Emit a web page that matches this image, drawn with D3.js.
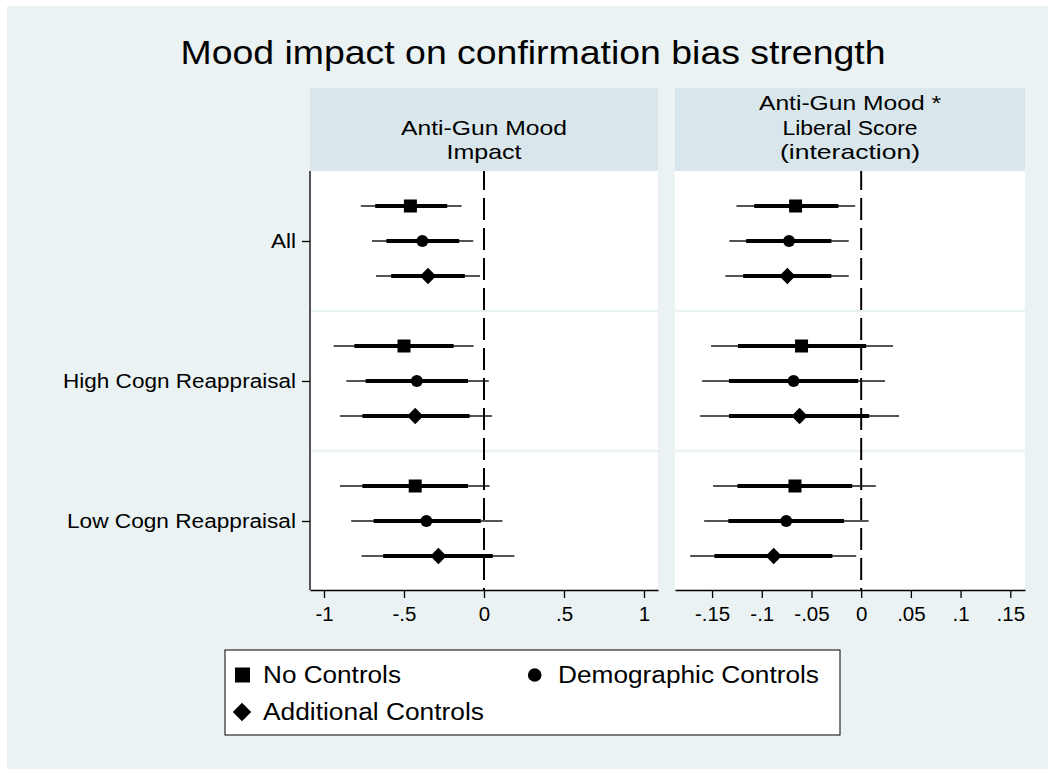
<!DOCTYPE html>
<html lang="en">
<head>
<meta charset="UTF-8">
<title>Mood impact on confirmation bias strength</title>
<script src="https://d3js.org/d3.v7.min.js"></script>
<style>
  body { margin: 0; background: #ffffff; }
  text { font-family: "Liberation Sans", Arial, sans-serif; fill: #000; }
</style>
</head>
<body>
<div id="chart"></div>
<script>
// groups (rows) and the three model specifications
const groups = ["All", "High Cogn Reappraisal", "Low Cogn Reappraisal"];
const series = ["No Controls", "Demographic Controls", "Additional Controls"];

const leftTicks = [-1, -0.5, 0, 0.5, 1];
const rightTicks = [-0.15, -0.1, -0.05, 0, 0.05, 0.1, 0.15];

// Anti-Gun Mood impact: one row per group, one value per series
const impactEst  = [[-0.46, -0.385, -0.35], [-0.50, -0.42, -0.43], [-0.43, -0.36, -0.285]];
const impactLo95 = [[-0.77, -0.70, -0.675], [-0.94, -0.86, -0.90], [-0.90, -0.83, -0.765]];
const impactLo90 = [[-0.68, -0.61, -0.58], [-0.81, -0.74, -0.76], [-0.76, -0.69, -0.63]];
const impactHi90 = [[-0.23, -0.155, -0.12], [-0.19, -0.10, -0.09], [-0.10, -0.02, 0.055]];
const impactHi95 = [[-0.14, -0.067, -0.025], [-0.065, 0.03, 0.05], [0.035, 0.115, 0.19]];

// Anti-Gun Mood * Liberal Score interaction
const interEst  = [[-0.066, -0.0726, -0.0743], [-0.060, -0.068, -0.062], [-0.0666, -0.0754, -0.088]];
const interLo95 = [[-0.1255, -0.1326, -0.1366], [-0.151, -0.160, -0.162], [-0.149, -0.158, -0.172]];
const interLo90 = [[-0.1076, -0.1157, -0.1187], [-0.124, -0.133, -0.133], [-0.1245, -0.1336, -0.1477]];
const interHi90 = [[-0.0229, -0.030, -0.030], [0.005, -0.003, 0.008], [-0.009, -0.0172, -0.029]];
const interHi95 = [[-0.006, -0.0125, -0.0125], [0.032, 0.024, 0.038], [0.0147, 0.0074, -0.005]];

const W = 1048, H = 769;
const plotTop = 171, plotBottom = 590;
const bg = "#eaf2f3", headerFill = "#d9e6eb";

const svg = d3.select("#chart").append("svg")
    .attr("width", W).attr("height", H);

svg.append("rect").attr("x", 7).attr("y", 6)
    .attr("width", W - 7).attr("height", H - 6).attr("fill", bg);

// title
svg.append("text")
    .attr("x", 533).attr("y", 64)
    .attr("text-anchor", "middle")
    .attr("font-size", 34)
    .attr("textLength", 705).attr("lengthAdjust", "spacingAndGlyphs")
    .text("Mood impact on confirmation bias strength");

const y = d3.scaleBand().domain(groups).range([plotTop, plotBottom + 1]);
const off = d3.scalePoint().domain(series).range([-35, 35]);

// stata style tick labels: .5 instead of 0.5
const fmt = v => (+v.toFixed(4)).toString().replace(/^(-?)0\./, "$1.");

const symSquare = s => d3.symbol(d3.symbolSquare, s * s)();
const symCircle = r => d3.symbol(d3.symbolCircle, Math.PI * r * r)();

function marker(g, i, cx, cy, big) {
  let p;
  if (i === 0) {
    p = g.append("path").attr("d", symSquare(big ? 15 : 13))
      .attr("transform", `translate(${cx},${cy})`);
  } else if (i === 1) {
    p = g.append("path").attr("d", symCircle(big ? 6.8 : 6))
      .attr("transform", `translate(${cx},${cy})`);
  } else {
    p = g.append("path").attr("d", symSquare(big ? 13 : 11.5))
      .attr("transform", `translate(${cx},${cy}) rotate(45)`);
  }
  p.attr("fill", "#000");
}

const panels = [
  { x0: 310, x1: 658, domain: [-1.0875, 1.0875], ticks: leftTicks,
    est: impactEst, lo95: impactLo95, lo90: impactLo90, hi90: impactHi90, hi95: impactHi95,
    header: ["Anti-Gun Mood", "Impact"], headerW: [166, 75], yAxis: true },
  { x0: 675, x1: 1025, domain: [-0.1873, 0.1648], ticks: rightTicks,
    est: interEst, lo95: interLo95, lo90: interLo90, hi90: interHi90, hi95: interHi95,
    header: ["Anti-Gun Mood *", "Liberal Score", "(interaction)"], headerW: [182, 135, 140], yAxis: false }
];

panels.forEach(p => {
  const x = d3.scaleLinear().domain(p.domain).range([p.x0, p.x1]);
  const g = svg.append("g");

  // header strip
  g.append("rect").attr("x", p.x0).attr("y", 88)
    .attr("width", p.x1 - p.x0).attr("height", plotTop - 88)
    .attr("fill", headerFill);
  const n = p.header.length;
  p.header.forEach((line, i) => {
    g.append("text")
      .attr("x", (p.x0 + p.x1) / 2)
      .attr("y", 159 - (n - 1 - i) * 24.5)
      .attr("text-anchor", "middle")
      .attr("font-size", 21)
      .attr("textLength", p.headerW[i]).attr("lengthAdjust", "spacingAndGlyphs")
      .text(line);
  });

  // plot region
  g.append("rect").attr("x", p.x0).attr("y", plotTop)
    .attr("width", p.x1 - p.x0).attr("height", plotBottom - plotTop)
    .attr("fill", "#fff");

  // group separators
  groups.slice(1).forEach(gr => {
    g.append("line")
      .attr("x1", p.x0).attr("x2", p.x1)
      .attr("y1", y(gr)).attr("y2", y(gr))
      .attr("stroke", bg).attr("stroke-width", 2.5);
  });

  // reference line at zero
  g.append("line")
    .attr("x1", x(0)).attr("x2", x(0))
    .attr("y1", plotTop).attr("y2", plotBottom)
    .attr("stroke", "#000").attr("stroke-width", 2)
    .attr("stroke-dasharray", "22,8").attr("stroke-dashoffset", 3);

  // CIs and point estimates
  groups.forEach((gr, gi) => {
    series.forEach((s, si) => {
      const cy = y(gr) + y.bandwidth() / 2 + off(s);
      g.append("line")
        .attr("x1", x(p.lo95[gi][si])).attr("x2", x(p.hi95[gi][si]))
        .attr("y1", cy).attr("y2", cy)
        .attr("stroke", "#1a1a1a").attr("stroke-width", 1.6);
      g.append("line")
        .attr("x1", x(p.lo90[gi][si])).attr("x2", x(p.hi90[gi][si]))
        .attr("y1", cy).attr("y2", cy)
        .attr("stroke", "#000").attr("stroke-width", 4);
      marker(g, si, x(p.est[gi][si]), cy, false);
    });
  });

  // x axis
  const xAxis = g.append("g")
    .attr("transform", `translate(0,${plotBottom})`)
    .call(d3.axisBottom(x).tickValues(p.ticks).tickFormat(fmt).tickSize(8).tickSizeOuter(0));
  xAxis.select(".domain").attr("stroke", "#000").attr("stroke-width", 1.5);
  xAxis.selectAll(".tick line").attr("stroke", "#000").attr("stroke-width", 1.3);
  xAxis.selectAll(".tick text")
    .attr("font-family", "Liberation Sans, Arial, sans-serif")
    .attr("font-size", 20.5).attr("fill", "#000")
    .attr("y", 16);

  // y axis on the first panel only
  if (p.yAxis) {
    const yPos = d3.scalePoint().domain(groups).range([y(groups[0]) + y.bandwidth() / 2, y(groups[2]) + y.bandwidth() / 2]);
    const yAxis = g.append("g")
      .attr("transform", `translate(${p.x0},0)`)
      .call(d3.axisLeft(yPos).tickSize(8).tickSizeOuter(0).tickPadding(6));
    yAxis.select(".domain")
      .attr("d", `M0,${plotTop}V${plotBottom}`)
      .attr("stroke", "#555").attr("stroke-width", 2);
    yAxis.selectAll(".tick line").attr("stroke", "#000").attr("stroke-width", 1.3);
    const labW = { "All": 25, "High Cogn Reappraisal": 233, "Low Cogn Reappraisal": 229 };
    yAxis.selectAll(".tick text")
      .attr("font-family", "Liberation Sans, Arial, sans-serif")
      .attr("font-size", 19.5).attr("fill", "#000")
      .attr("textLength", d => labW[d]).attr("lengthAdjust", "spacingAndGlyphs");
  }
});

// legend
const leg = svg.append("g");
leg.append("rect").attr("x", 225).attr("y", 650)
  .attr("width", 615).attr("height", 85)
  .attr("fill", "#fff").attr("stroke", "#000").attr("stroke-width", 1);

const legPos = [
  { mx: 242.5, my: 675, tx: 263, ty: 683, w: 138 },
  { mx: 534.7, my: 675, tx: 558, ty: 683, w: 261 },
  { mx: 242, my: 712, tx: 263, ty: 720, w: 221 }
];
series.forEach((s, i) => {
  const lp = legPos[i];
  marker(leg, i, lp.mx, lp.my, true);
  leg.append("text")
    .attr("x", lp.tx).attr("y", lp.ty)
    .attr("font-size", 23)
    .attr("textLength", lp.w).attr("lengthAdjust", "spacingAndGlyphs")
    .text(s);
});
</script>
</body>
</html>
